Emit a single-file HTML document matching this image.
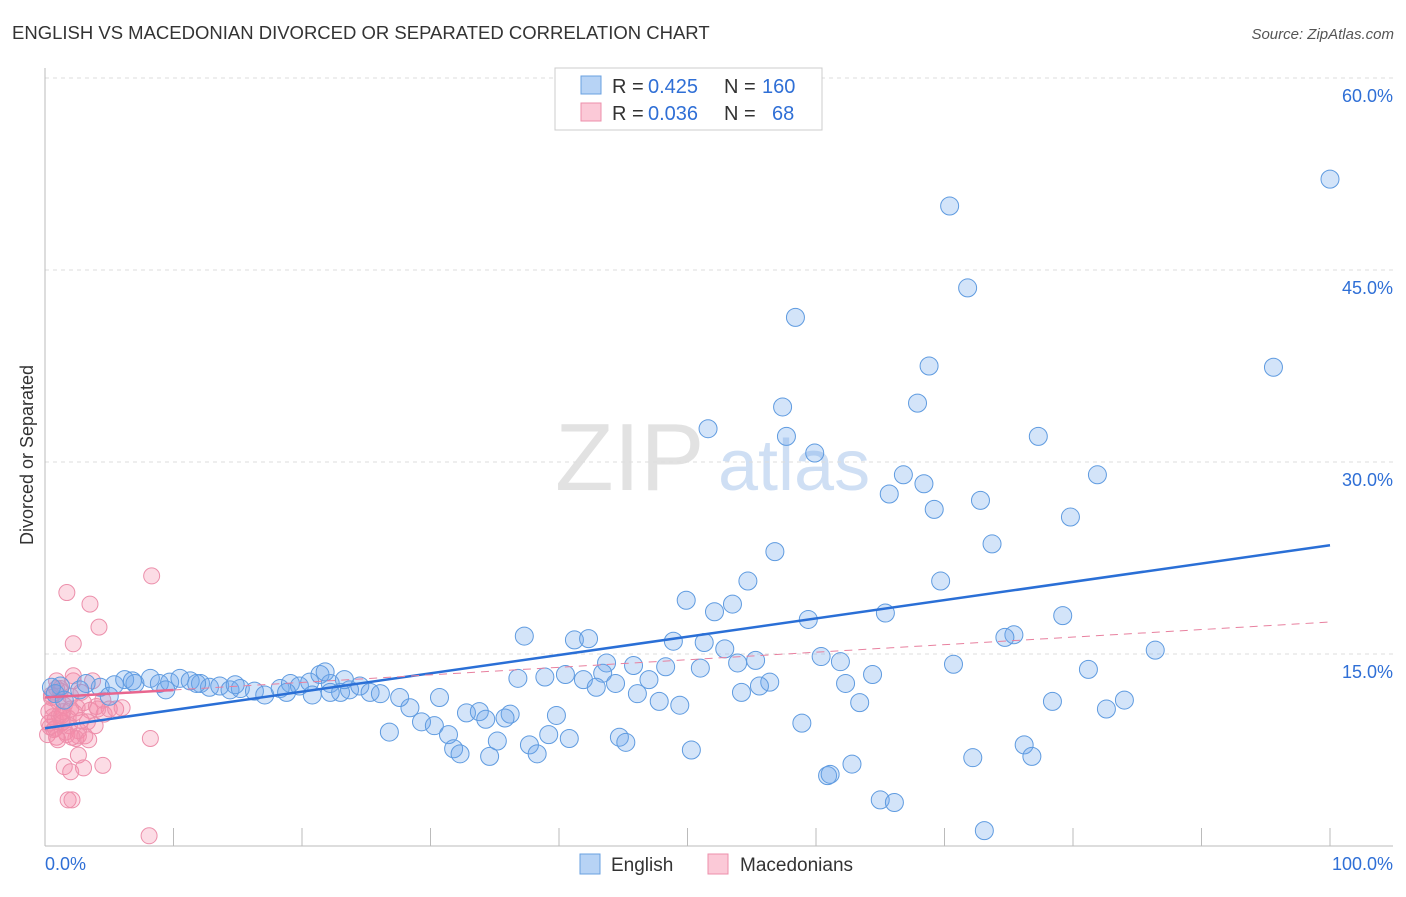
<!DOCTYPE html>
<html><head><meta charset="utf-8"><style>
body{margin:0;background:#fff;font-family:"Liberation Sans",sans-serif}
svg text{font-family:"Liberation Sans",sans-serif}
</style></head><body>
<svg width="1406" height="892">
<text x="12" y="39" font-size="18.5" fill="#333">ENGLISH VS MACEDONIAN DIVORCED OR SEPARATED CORRELATION CHART</text>
<text x="1394" y="39" font-size="15" fill="#555" font-style="italic" text-anchor="end">Source: ZipAtlas.com</text>
<text x="33" y="455" font-size="18" fill="#333" text-anchor="middle" transform="rotate(-90 33 455)">Divorced or Separated</text>
<text x="555" y="490" font-size="96" fill="#e2e2e2" font-family="Liberation Serif">ZIP</text>
<text x="718" y="490" font-size="72" fill="#cfdff4">atlas</text>
<g id="grid"></g><g id="axes"></g><g id="pink"></g><g id="blue"></g><g id="lines"></g>
<rect x="555" y="68" width="267" height="62" fill="#fff" stroke="#ccc"/>
<rect x="581" y="76" width="20" height="18" fill="#b7d3f5" stroke="#6aa0e0"/>
<rect x="581" y="103" width="20" height="18" fill="#fbc9d7" stroke="#ec8fab"/>
<g font-size="20">
<text x="612" y="93" fill="#333">R =</text><text x="648" y="93" fill="#2f6fd6">0.425</text>
<text x="724" y="93" fill="#333">N =</text><text x="762" y="93" fill="#2f6fd6">160</text></g>
<g font-size="20">
<text x="612" y="120" fill="#333">R =</text><text x="648" y="120" fill="#2f6fd6">0.036</text>
<text x="724" y="120" fill="#333">N =</text><text x="772" y="120" fill="#2f6fd6">68</text></g>
<text x="45" y="870" font-size="18" fill="#2f6fd6">0.0%</text>
<text x="1393" y="870" font-size="18" fill="#2f6fd6" text-anchor="end">100.0%</text>
<rect x="580" y="854" width="20" height="20" fill="#b7d3f5" stroke="#6aa0e0"/>
<text x="611" y="871" font-size="19" fill="#333">English</text>
<rect x="708" y="854" width="20" height="20" fill="#fbc9d7" stroke="#ec8fab"/>
<text x="740" y="871" font-size="19" fill="#333">Macedonians</text>
</svg>
<script>
const yTicks=[15,30,45,60];
const xTicks=[0,10,20,30,40,50,60,70,80,90,100];
const blueX=[100,70.4,71.8,58.4,95.6,68.8,67.9,57.4,51.6,57.7,77.3,59.9,66.8,81.9,68.4,65.7,72.8,69.2,79.8,73.7,56.8,54.7,69.7,49.9,53.5,52.1,65.4,59.4,79.2,37.3,41.2,42.3,48.9,51.3,75.4,74.7,52.9,86.4,60.4,55.3,53.9,61.9,43.7,45.8,48.3,51,70.7,81.2,43.4,40.5,64.4,36.8,38.9,41.9,44.4,47,56.4,62.3,42.9,55.6,54.2,46.1,47.8,49.4,63.4,78.4,84,82.6,39.8,58.9,28.4,30.7,32.8,33.8,34.3,36.2,35.8,29.3,30.3,26.8,31.4,39.2,40.8,35.2,37.7,38.3,31.8,32.3,34.6,44.7,45.2,50.3,72.2,76.2,76.8,62.8,60.9,61.1,65,66.1,73.1,
1.2,2.7,4.3,5.4,6.2,7,8.2,8.9,9.7,10.5,11.3,12.1,12.8,13.6,14.4,15.2,16.3,17.1,18.3,19.1,19.8,20.6,21.4,22.2,23,23.7,24.5,25.3,26.1,27.6,22.2,23.3,21.8,0.5,0.8,1.5,3.2,5,6.8,9.4,11.8,14.8,18.8,20.8];
const blueY=[52.1,50,43.6,41.3,37.4,37.5,34.6,34.3,32.6,32,32,30.7,29,29,28.3,27.5,27,26.3,25.7,23.6,23,20.7,20.7,19.2,18.9,18.3,18.2,17.7,18,16.4,16.1,16.2,16,15.9,16.5,16.3,15.4,15.3,14.8,14.5,14.3,14.4,14.3,14.1,14,13.9,14.2,13.8,13.5,13.4,13.4,13.1,13.2,13,12.7,13,12.8,12.7,12.4,12.5,12,11.9,11.3,11,11.2,11.3,11.4,10.7,10.2,9.6,10.8,11.6,10.4,10.5,9.9,10.3,10,9.7,9.4,8.9,8.7,8.7,8.4,8.2,7.9,7.2,7.6,7.2,7,8.5,8.1,7.5,6.9,7.9,7,6.4,5.5,5.6,3.6,3.4,1.2,
12.5,12.2,12.4,12.6,13,12.7,13.1,12.7,12.8,13.1,12.9,12.7,12.4,12.5,12.2,12.3,12.1,11.8,12.3,12.7,12.5,12.8,13.4,12.7,12,12.2,12.5,12,11.9,11.6,12,13,13.6,12.4,11.9,11.4,12.7,11.7,12.9,12.2,12.7,12.6,12,11.8];
const pinkX=[8.3,1.7,3.5,4.2,2.2,0.9,2.2,3.7,1.2,0.5,1,1.5,2,2.5,3,3.5,4,4.5,5,0.3,0.6,0.8,1.1,1.4,1.8,2.3,2.8,0.4,0.7,1.3,1.9,2.6,3.3,0.2,0.9,1.6,2.4,3.1,3.9,4.6,5.5,6,0.5,1.2,2,1.4,0.3,0.8,1.7,2.6,1,2.1,3.4,8.2,2.6,1.5,2,3,4.5,1.8,2.1,8.1,0.6,1.3,2.2,2.8,4.1,0.9];
const pinkY=[21.1,19.8,18.9,17.1,15.8,12.9,12.9,12.9,12.3,11.6,11.3,11,10.7,10.8,11.2,10.6,10.9,11.4,10.7,10.5,10.1,9.9,10.2,9.7,10,10.4,9.8,9.3,9.1,9.6,9.4,9,9.7,8.7,8.5,8.9,8.4,8.6,9.4,10.3,10.7,10.8,11.8,12.1,11.7,10.5,9.6,9.2,8.7,8.6,8.3,8.5,8.3,8.4,7.1,6.2,5.8,6.1,6.3,3.6,3.6,0.8,10.8,10.2,13.3,12,10.7,12.3];
const blueTrend=[9.2,23.5];
const pinkTrend=[11.6,17.5];
const NS='http://www.w3.org/2000/svg';
const X0=45,X1=1330,Y0=846,Y60=78;
function sx(v){return X0+(X1-X0)*v/100;}
function sy(v){return Y0-(Y0-Y60)*v/60;}
function mk(tag,attrs,parent){const e=document.createElementNS(NS,tag);for(const k in attrs)e.setAttribute(k,attrs[k]);document.getElementById(parent).appendChild(e);return e;}
yTicks.forEach(t=>{
 const l=mk('line',{x1:45,x2:1393,y1:sy(t),y2:sy(t),stroke:'#ddd','stroke-dasharray':'4,4'},'grid');
 
 
 const tx=mk('text',{x:1393,y:sy(t)+24,'font-size':18,fill:'#2f6fd6','text-anchor':'end'},'grid');
 tx.textContent=t.toFixed(1)+'%';
 
 
});
const ax=mk('line',{x1:45,x2:1393,y1:Y0,y2:Y0,stroke:'#bbb'},'axes');


const ay=mk('line',{x1:45,x2:45,y1:68,y2:Y0,stroke:'#bbb'},'axes');


xTicks.forEach(t=>{
 const l=mk('line',{x1:sx(t),x2:sx(t),y1:Y0-18,y2:Y0,stroke:'#bbb'},'axes');
 
 
});
pinkX.forEach((v,i)=>{
 const c=mk('circle',{cx:sx(v),cy:sy(pinkY[i]),r:8,fill:'rgba(244,140,170,0.3)',stroke:'#ec8fab','stroke-width':1},'pink');
 
 
});
blueX.forEach((v,i)=>{
 const c=mk('circle',{cx:sx(v),cy:sy(blueY[i]),r:9,fill:'rgba(110,165,235,0.3)',stroke:'#5f9be0','stroke-width':1},'blue');
 
 
});
const bl=mk('line',{x1:sx(0),y1:sy(blueTrend[0]),x2:sx(100),y2:sy(blueTrend[1]),stroke:'#2a6fd6','stroke-width':2.5},'lines');


const pv=t=>pinkTrend[0]+(pinkTrend[1]-pinkTrend[0])*t/100;
const ps=mk('line',{x1:sx(0),y1:sy(pv(0)),x2:sx(10),y2:sy(pv(10)),stroke:'#e8668f','stroke-width':2.5},'lines');


const pd=mk('line',{x1:sx(10),y1:sy(pv(10)),x2:sx(100),y2:sy(pv(100)),stroke:'#e8809f','stroke-width':1,'stroke-dasharray':'8,6'},'lines');


</script>
</body></html>
